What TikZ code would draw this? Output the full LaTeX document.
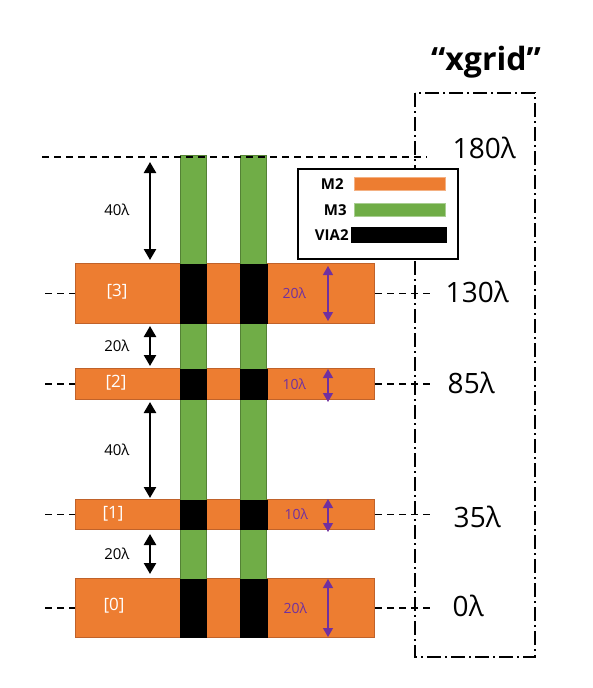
\documentclass[tikz,border=0pt]{standalone}
\usepackage{fontspec}
\setmainfont{Open Sans}
\usetikzlibrary{positioning,arrows.meta}
\usepackage{xcolor}
\definecolor{mtwo}{HTML}{ED7D31}
\definecolor{mtwoedge}{HTML}{C0622A}
\definecolor{mthree}{HTML}{70AD47}
\definecolor{mthreeedge}{HTML}{548235}
\definecolor{dimpurple}{HTML}{7030A0}

\begin{document}
\begin{tikzpicture}[x=1pt, y=-1pt, thick,
  track/.style={draw=mtwoedge, fill=mtwo, line width=1pt, minimum width=299pt, inner sep=0pt, anchor=north west},
  bar/.style={draw=mthreeedge, fill=mthree, line width=1pt, minimum width=26pt, minimum height=482pt, inner sep=0pt, anchor=north west},
  via/.style={fill=black, inner sep=0pt},
  guide/.style={dashed, dash pattern=on 7pt off 5pt, line width=1.3pt},
  gridline/.style={line width=2pt, dash pattern=on 14pt off 4pt on 2pt off 4pt},
  gap/.style={line width=2.5pt, {Triangle[length=11pt,width=12pt]}-{Triangle[length=11pt,width=12pt]}},
  width/.style={dimpurple, line width=1.3pt, {Triangle[length=9pt,width=10pt]}-{Triangle[length=9pt,width=10pt]}},
  gaplabel/.style={font=\fontsize{15}{18}\selectfont},
  widthlabel/.style={text=dimpurple, font=\fontsize{14}{16}\selectfont},
  idx/.style={text=white, font=\fontsize{17}{20}\selectfont},
  level/.style={anchor=west, font=\fontsize{28}{32}\selectfont},
  legbar/.style={inner sep=0pt, anchor=north west},
  legtext/.style={font=\fontsize{15}{18}\selectfont\bfseries, inner sep=1pt}]
\useasboundingbox (0,0) rectangle (592,688);

% grid column
\draw[gridline] (415,93) rectangle (535,657);
\node[font=\fontsize{32}{36}\selectfont\bfseries] (title) at (486,62) {“xgrid”};

% M2 tracks
\node[track, minimum height=60pt] (t3) at (75,263) {};
\node[track, minimum height=31pt] (t2) at (75,368) {};
\node[track, minimum height=30pt] (t1) at (75,499) {};
\node[track, minimum height=59pt] (t0) at (75,578) {};

% M3 bars
\node[bar] (b1) at (180,155) {};
\node[bar] (b2) at (240,155) {};

% VIA2 on every crossing
\foreach \t/\h in {t3/60,t2/31,t1/30,t0/59} {
  \node[via, minimum width=27pt, minimum height=\h pt] at (b1.center |- \t.center) {};
  \node[via, minimum width=28pt, minimum height=\h pt] at (b2.center |- \t.center) {};
}

\node[idx] (n3) at (117,292) {[3]};
\node[idx] (n2) at (116,383) {[2]};
\node[idx] (n1) at (113,514) {[1]};
\node[idx] (n0) at (114,606) {[0]};

% guide lines
\coordinate (topl) at (42,157);
\coordinate (topr) at (427,157);
\coordinate (lx) at (45,0);
\coordinate (rx) at (433,0);
\draw[guide] (topl) -- (topr);
\foreach \t in {t3,t2,t1,t0} {
  \draw[guide] (\t.west -| lx) -- (\t.west);
  \draw[guide] (\t.east) -- (\t.east -| rx);
}

% levels
\node[level] (l180) at (449,148) {180λ};
\node[level] (l130) at (442,292) {130λ};
\node[level] (l85) at (444,383) {85λ};
\node[level] (l35) at (450,517) {35λ};
\node[level] (l0) at (449,606) {0λ};

% spacings
\coordinate (ax) at (150,0);
\draw[gap, shorten <=5pt, shorten >=3pt] (topl -| ax) -- node[gaplabel, midway, left=16pt] {40λ} (t3.north -| ax);
\draw[gap, shorten <=2pt, shorten >=2pt] (t3.south -| ax) -- node[gaplabel, midway, left=16pt] {20λ} (t2.north -| ax);
\draw[gap, shorten <=2pt, shorten >=1pt] (t2.south -| ax) -- node[gaplabel, midway, left=16pt] {40λ} (t1.north -| ax);
\draw[gap, shorten <=4pt, shorten >=4pt] (t1.south -| ax) -- node[gaplabel, midway, left=16pt] {20λ} (t0.north -| ax);

% widths
\coordinate (wx) at (328,0);
\draw[width, shorten <=3pt, shorten >=3pt] (t3.north -| wx) -- node[widthlabel, midway, left=18pt] {20λ} (t3.south -| wx);
\draw[width, shorten <=1pt, shorten >=-2pt] (t2.north -| wx) -- node[widthlabel, midway, left=18pt] {10λ} (t2.south -| wx);
\draw[width, shorten <=0pt, shorten >=-2pt] (t1.north -| wx) -- node[widthlabel, midway, left=16pt] {10λ} (t1.south -| wx);
\draw[width, shorten <=1pt, shorten >=1pt] (t0.north -| wx) -- node[widthlabel, midway, left=17pt] {20λ} (t0.south -| wx);

% legend
\node[draw, fill=white, line width=1.5pt, minimum width=160pt, minimum height=90pt, anchor=north west] (legend) at (297,168) {};
\node[legbar, fill=mtwo, draw=mtwo!60, minimum width=91pt, minimum height=13pt] (lm2) at (354,177) {};
\node[legbar, fill=mthree, draw=mthree!60, minimum width=91pt, minimum height=13pt] (lm3) at (354,203) {};
\node[legbar, fill=black, minimum width=96pt, minimum height=16pt] (lvia) at (351,227) {};
\node[legtext, left=9pt of lm2] {M2};
\node[legtext, left=6pt of lm3] {M3};
\node[legtext, left=1pt of lvia] {VIA2};
\end{tikzpicture}
\end{document}
